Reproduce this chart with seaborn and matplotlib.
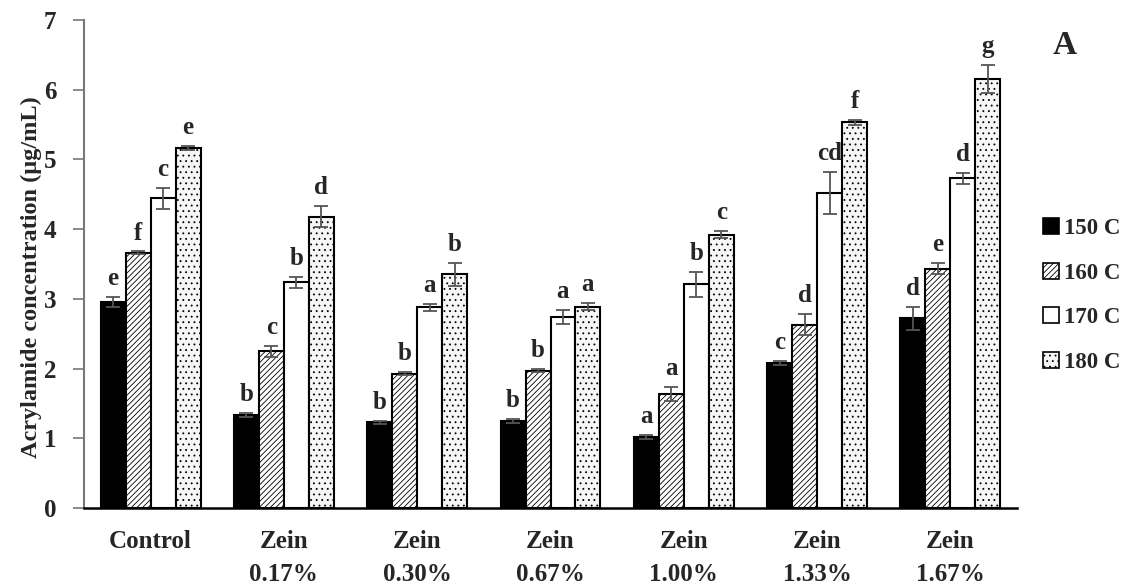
import numpy as np
import pandas as pd
import matplotlib
matplotlib.use("Agg")
import matplotlib.pyplot as plt
import seaborn as sns
from matplotlib.patches import Patch

groups = ["Control", "Zein\n0.17%", "Zein\n0.30%", "Zein\n0.67%", "Zein\n1.00%", "Zein\n1.33%", "Zein\n1.67%"]
temps = ["150 C", "160 C", "170 C", "180 C"]

v150 = [2.96, 1.33, 1.23, 1.25, 1.02, 2.08, 2.72]
v160 = [3.66, 2.25, 1.93, 1.97, 1.64, 2.63, 3.43]
v170 = [4.44, 3.24, 2.88, 2.74, 3.21, 4.52, 4.73]
v180 = [5.16, 4.18, 3.35, 2.89, 3.92, 5.53, 6.15]

e150 = [0.07, 0.03, 0.02, 0.03, 0.03, 0.03, 0.17]
e160 = [0.02, 0.08, 0.02, 0.02, 0.10, 0.15, 0.08]
e170 = [0.15, 0.08, 0.05, 0.10, 0.18, 0.30, 0.08]
e180 = [0.03, 0.15, 0.17, 0.05, 0.05, 0.03, 0.20]

l150 = ["e", "b", "b", "b", "a", "c", "d"]
l160 = ["f", "c", "b", "b", "a", "d", "e"]
l170 = ["c", "b", "a", "a", "b", "cd", "d"]
l180 = ["e", "d", "b", "a", "c", "f", "g"]

values = [v150, v160, v170, v180]
errors = [e150, e160, e170, e180]
letters = [l150, l160, l170, l180]

rows = []
for t, vals in zip(temps, values):
    for g, v in zip(groups, vals):
        rows.append({"group": g, "temp": t, "value": v})
df = pd.DataFrame(rows)

sns.set_style("white")
plt.rcParams["font.family"] = ["Liberation Serif", "DejaVu Serif"]
plt.rcParams["font.weight"] = "bold"
plt.rcParams["hatch.linewidth"] = 0.6

fig = plt.figure(figsize=(11.29, 5.84), dpi=100)
ax = fig.add_axes([0.0744, 0.130, 0.8264, 0.8358])

face = {"150 C": "black", "160 C": "white", "170 C": "white", "180 C": "#f6f6f6"}
hatches = [None, "//////", None, "..."]

sns.barplot(data=df, x="group", y="value", hue="temp", hue_order=temps, order=groups,
            palette=face, edgecolor="black", linewidth=1.5, errorbar=None,
            width=0.75, gap=0, ax=ax, legend=False)

bar_containers = list(ax.containers)
for ci, cont in enumerate(bar_containers):
    for j, p in enumerate(cont.patches):
        if hatches[ci]:
            p.set_hatch(hatches[ci])
        x = p.get_x() + p.get_width() / 2
        h = p.get_height()
        err = errors[ci][j]
        ax.errorbar(x, h, yerr=err, fmt="none", ecolor="#555555", elinewidth=1.3,
                    capsize=5, capthick=1.3, zorder=5)
        ax.text(x, h + err + 0.1, letters[ci][j], ha="center", va="bottom",
                fontsize=18, fontweight="bold")

ax.set_ylim(0, 7)
ax.set_xlim(-0.5, 6.5)
ax.set_yticks(range(0, 8))
ax.set_xlabel("")
ax.set_ylabel("Acrylamide concentration (µg/mL)", fontsize=17.5, fontweight="bold")
ax.yaxis.set_label_coords(-0.0447, 0.473)
ax.tick_params(axis="y", labelsize=18, length=8, width=1.2, color="#777777", left=True,
               direction="out", pad=12)
ax.tick_params(axis="x", labelsize=18, length=0, pad=16)
for lab in ax.get_xticklabels() + ax.get_yticklabels():
    lab.set_fontweight("bold")
for lab in ax.get_xticklabels():
    lab.set_linespacing(1.55)

for s in ["top", "right"]:
    ax.spines[s].set_visible(False)
ax.spines["left"].set_color("#777777")
ax.spines["left"].set_linewidth(1.5)
ax.spines["bottom"].set_color("black")
ax.spines["bottom"].set_linewidth(1.8)

handles = [Patch(facecolor=face[t], edgecolor="black", hatch=hatches[i], linewidth=1.2)
           for i, t in enumerate(temps)]
leg = fig.legend(handles, temps, loc="upper left", bbox_to_anchor=(0.924, 0.626),
                 frameon=False, handlelength=0.7, handleheight=0.7, borderpad=0,
                 borderaxespad=0, handletextpad=0.2, labelspacing=1.02,
                 prop={"weight": "bold", "size": 16.5})

fig.text(0.943, 0.922, "A", fontsize=24, fontweight="bold", ha="center", va="center")

fig.savefig("out.png", dpi=100)
